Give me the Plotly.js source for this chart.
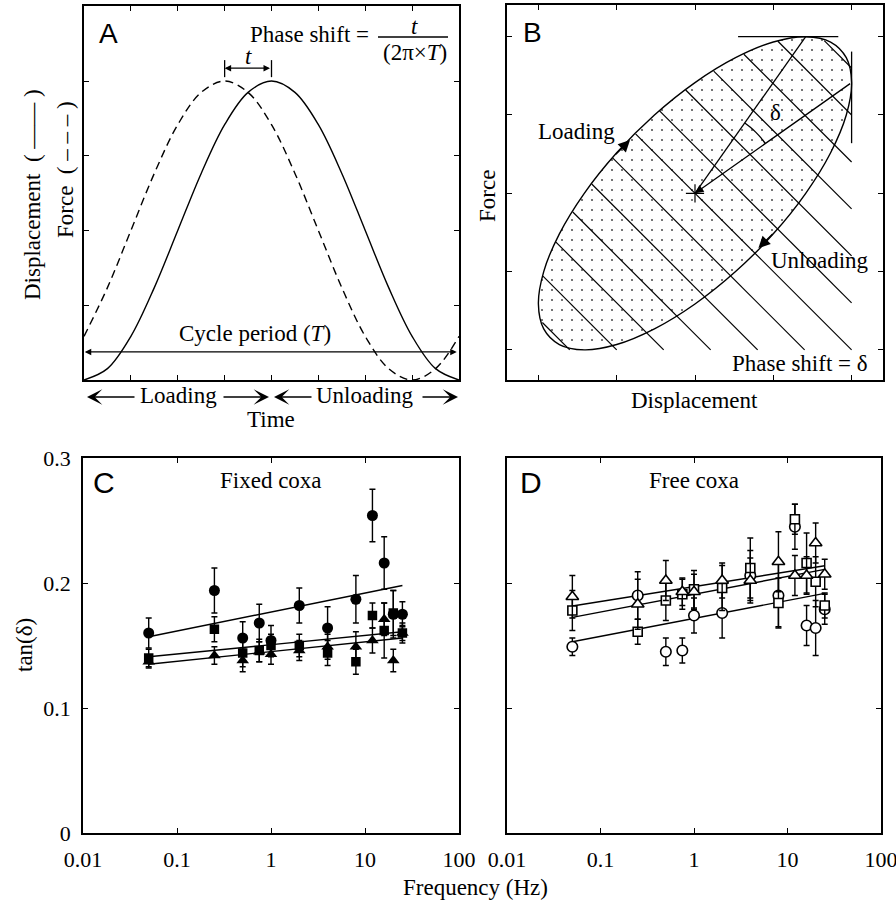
<!DOCTYPE html>
<html><head><meta charset="utf-8">
<script src="https://cdn.plot.ly/plotly-3.0.1.min.js"></script>
<style>html,body{margin:0;padding:0;background:#fff}#chart{width:896px;height:903px}</style>
</head><body><div id="chart"></div>
<script>
// ---------- Panel A (schematic) ----------
const phase = [0, 0.0625, 0.125, 0.1875, 0.25, 0.3125, 0.375, 0.4375, 0.5, 0.5625, 0.625, 0.6875, 0.75, 0.8125, 0.875, 0.9375, 1];
const displacement = [0, 0.038, 0.146, 0.309, 0.5, 0.691, 0.854, 0.962, 1, 0.962, 0.854, 0.691, 0.5, 0.309, 0.146, 0.038, 0];
const force = [0.146, 0.309, 0.5, 0.691, 0.854, 0.962, 1, 0.962, 0.854, 0.691, 0.5, 0.309, 0.146, 0.038, 0, 0.038, 0.146];
const aTicksX = [0.125, 0.25, 0.375, 0.5, 0.625, 0.75, 0.875];
const aTicksY = [0.25, 0.5, 0.75, 1];

// ---------- Panel B (schematic) ----------
const ellipseX = [2, 1.932, 1.732, 1.414, 1, 0.518, 0, -0.518, -1, -1.414, -1.732, -1.932, -2, -1.932, -1.732, -1.414, -1, -0.518, 0, 0.518, 1, 1.414, 1.732, 1.932, 2];
const ellipseY = [1.414, 1.732, 1.932, 2, 1.932, 1.732, 1.414, 1, 0.518, 0, -0.518, -1, -1.414, -1.732, -1.932, -2, -1.932, -1.732, -1.414, -1, -0.518, 0, 0.518, 1, 1.414];
const hatchOffsets = [3.6, 3.0, 2.4, 1.8, 1.2, 0.6, 0, -0.6, -1.2, -1.8, -2.4, -3.0, -3.6];
const hatchLimit = 2;
const guideTopX = [0.55, 1.83];
const guideRightY = [0.64, 1.81];
const arcX = [0.636, 0.707, 0.778, 0.843, 0.898];
const arcY = [0.898, 0.843, 0.778, 0.707, 0.636];
const bTicks = [-2, -1, 0, 1, 2];

// ---------- Panels C & D ----------
const freqHz = [0.05, 0.25, 0.5, 0.75, 1, 2, 4, 8, 12, 16, 20, 25];
const fixedCircle = [0.160, 0.194, 0.156, 0.168, 0.154, 0.182, 0.164, 0.187, 0.254, 0.216, 0.175, 0.175];
const fixedCircleErr = [0.012, 0.018, 0.013, 0.015, 0.012, 0.014, 0.017, 0.019, 0.021, 0.021, 0.019, 0.010];
const fixedSquare = [0.140, 0.163, 0.144, 0.146, 0.150, 0.150, 0.144, 0.137, 0.174, 0.162, 0.176, 0.160];
const fixedSquareErr = [0.007, 0.010, 0.011, 0.009, 0.009, 0.009, 0.010, 0.010, 0.010, 0.022, 0.018, 0.008];
const fixedTriangle = [0.137, 0.142, 0.138, 0.145, 0.143, 0.146, 0.149, 0.149, 0.154, 0.171, 0.138, 0.160];
const fixedTriangleErr = [0.005, 0.007, 0.009, 0.008, 0.008, 0.008, 0.010, 0.012, 0.010, 0.013, 0.009, 0.006];

const freeCircle = [0.149, 0.190, 0.145, 0.146, 0.174, 0.176, 0.206, 0.190, 0.245, 0.166, 0.164, 0.179];
const freeCircleErr = [0.007, 0.019, 0.011, 0.010, 0.014, 0.020, 0.020, 0.025, 0.018, 0.016, 0.022, 0.012];
const freeSquare = [0.178, 0.161, 0.186, 0.191, 0.195, 0.196, 0.212, 0.184, 0.251, 0.216, 0.201, 0.182];
const freeSquareErr = [0.016, 0.010, 0.016, 0.012, 0.015, 0.018, 0.024, 0.020, 0.012, 0.024, 0.020, 0.010];
const freeTriangle = [0.189, 0.183, 0.202, 0.193, 0.193, 0.202, 0.202, 0.217, 0.206, 0.206, 0.232, 0.207];
const freeTriangleErr = [0.017, 0.020, 0.016, 0.011, 0.014, 0.014, 0.018, 0.024, 0.016, 0.015, 0.016, 0.012];

const fitFreq = [0.05, 25];
const fixedFitCircle = [0.157, 0.198];
const fixedFitSquare = [0.141, 0.161];
const fixedFitTriangle = [0.135, 0.156];
const freeFitTop = [0.1816, 0.2138];
const freeFitMid = [0.1725, 0.2109];
const freeFitLow = [0.153, 0.1917];

const freqTicks = [0.01, 0.1, 1, 10, 100];
const freqTickText = ['0.01', '0.1', '1', '10', '100'];
const tanTicks = [0, 0.1, 0.2, 0.3];
const tanTickText = ['0', '0.1', '0.2', '0.3'];

// ---------- build ----------
const W = 896, H = 903;
const SERIF = 'Liberation Serif, Times New Roman, serif';
const SANS = 'Liberation Sans, Arial, sans-serif';
const FS = 23;
const fx = v => v / W, fy = v => 1 - v / H;
const traces = [];
const ln = (x, y, xa, ya, extra) => Object.assign({x, y, xaxis: xa, yaxis: ya, mode: 'lines', line: {color: 'black', width: 1.3}, hoverinfo: 'skip', showlegend: false}, extra || {});

// A
traces.push(ln(phase, displacement, 'x', 'y', {line: {color: 'black', width: 1.4, shape: 'spline'}}));
traces.push(ln(phase, force, 'x', 'y', {line: {color: 'black', width: 1.4, shape: 'spline', dash: '8px,5px'}}));
const tForce = phase[force.indexOf(Math.max(...force))];
const tDisp = phase[displacement.indexOf(Math.max(...displacement))];
traces.push(ln([tForce, tForce, null, tDisp, tDisp], [1.013, 1.07, null, 1.013, 1.07], 'x', 'y', {line: {color: 'black', width: 1.3}}));

// B
traces.push(ln(ellipseX, ellipseY, 'x2', 'y2', {fill: 'toself', fillcolor: 'white',
  fillpattern: {shape: '.', size: 10, solidity: 0.035, fgcolor: '#555', bgcolor: 'white'},
  line: {color: 'black', width: 1.4, shape: 'spline'}}));
function hatchStart(c) {
  let best = null;
  for (let i = 0; i < ellipseX.length - 1; i++) {
    const s1 = ellipseX[i] + ellipseY[i] - c, s2 = ellipseX[i + 1] + ellipseY[i + 1] - c;
    if (s1 === 0 || s1 * s2 < 0) {
      const f = s1 / (s1 - s2);
      const x = ellipseX[i] + f * (ellipseX[i + 1] - ellipseX[i]);
      const y = ellipseY[i] + f * (ellipseY[i + 1] - ellipseY[i]);
      if (!best || x < best[0]) best = [x, y];
    }
  }
  return best;
}
const hx = [], hy = [];
hatchOffsets.forEach(c => {
  const s = hatchStart(c); if (!s) return;
  const e = c >= 0 ? [hatchLimit, c - hatchLimit] : [c + hatchLimit, -hatchLimit];
  hx.push(s[0], e[0], null); hy.push(s[1], e[1], null);
});
traces.push(ln(hx, hy, 'x2', 'y2', {line: {color: 'black', width: 1.2}}));
const iTop = ellipseY.indexOf(Math.max(...ellipseY));
const iRight = ellipseX.indexOf(Math.max(...ellipseX));
const topPt = [ellipseX[iTop], ellipseY[iTop]], rightPt = [ellipseX[iRight], ellipseY[iRight]];
traces.push(ln([topPt[0], 0, null, guideTopX[0], guideTopX[1], null, rightPt[0], rightPt[0]],
               [topPt[1], 0, null, topPt[1], topPt[1], null, guideRightY[0], guideRightY[1]], 'x2', 'y2', {line: {color: 'black', width: 1.3}}));
traces.push(ln(arcX, arcY, 'x2', 'y2', {line: {color: 'black', width: 1.3, shape: 'spline'}}));
traces.push({x: [0], y: [0], xaxis: 'x2', yaxis: 'y2', mode: 'markers', marker: {symbol: 'cross-thin', size: 13, line: {color: 'black', width: 1.2}}, hoverinfo: 'skip', showlegend: false});

// C & D
function series(y, err, xa, ya, symbol, size, filled) {
  return {x: freqHz, y, xaxis: xa, yaxis: ya, mode: 'markers', showlegend: false, hoverinfo: 'skip', cliponaxis: false,
    error_y: {type: 'data', array: err, visible: true, color: 'black', thickness: 1.4, width: 3},
    marker: {symbol, size, color: filled ? 'black' : 'white', line: {color: 'black', width: filled ? 0 : 1.6}}};
}
traces.push(ln(fitFreq, fixedFitCircle, 'x3', 'y3', {line: {color: 'black', width: 1.4}}));
traces.push(ln(fitFreq, fixedFitSquare, 'x3', 'y3', {line: {color: 'black', width: 1.4}}));
traces.push(ln(fitFreq, fixedFitTriangle, 'x3', 'y3', {line: {color: 'black', width: 1.4}}));
traces.push(series(fixedTriangle, fixedTriangleErr, 'x3', 'y3', 'triangle-up', 11, true));
traces.push(series(fixedSquare, fixedSquareErr, 'x3', 'y3', 'square', 9.5, true));
traces.push(series(fixedCircle, fixedCircleErr, 'x3', 'y3', 'circle', 11, true));

traces.push(ln(fitFreq, freeFitTop, 'x4', 'y4', {line: {color: 'black', width: 1.4}}));
traces.push(ln(fitFreq, freeFitMid, 'x4', 'y4', {line: {color: 'black', width: 1.4}}));
traces.push(ln(fitFreq, freeFitLow, 'x4', 'y4', {line: {color: 'black', width: 1.4}}));
traces.push(series(freeCircle, freeCircleErr, 'x4', 'y4', 'circle', 10.5, false));
traces.push(series(freeSquare, freeSquareErr, 'x4', 'y4', 'square', 9, false));
traces.push(series(freeTriangle, freeTriangleErr, 'x4', 'y4', 'triangle-up', 11, false));

// axes
const frame = {showline: true, linecolor: 'black', linewidth: 1.8, mirror: 'ticks', ticks: 'inside', ticklen: 5, tickwidth: 1, tickcolor: 'black', showgrid: false, zeroline: false, fixedrange: true};
const tickFont = {family: SERIF, size: 22, color: 'black'};
const layout = {
  width: W, height: H, margin: {l: 0, r: 0, t: 0, b: 0}, paper_bgcolor: 'white', plot_bgcolor: 'white', showlegend: false,
  xaxis: Object.assign({}, frame, {domain: [fx(84), fx(459)], range: [0, 1], tickvals: aTicksX, showticklabels: false, anchor: 'y'}),
  yaxis: Object.assign({}, frame, {domain: [fy(380), fy(6)], range: [0, 1.251], tickvals: aTicksY, showticklabels: false, anchor: 'x'}),
  xaxis2: Object.assign({}, frame, {domain: [fx(507), fx(883)], range: [-2.401, 2.401], tickvals: bTicks, showticklabels: false, anchor: 'y2'}),
  yaxis2: Object.assign({}, frame, {domain: [fy(380), fy(5)], range: [-2.385, 2.405], tickvals: bTicks, showticklabels: false, anchor: 'x2'}),
  xaxis3: Object.assign({}, frame, {type: 'log', domain: [fx(83), fx(459)], range: [-2, 2], tickvals: freqTicks, ticktext: freqTickText, tickfont: tickFont, ticklabelstandoff: 6, ticklabeloverflow: 'allow', anchor: 'y3'}),
  yaxis3: Object.assign({}, frame, {domain: [fy(833), fy(458)], range: [0, 0.3], tickvals: tanTicks, ticktext: tanTickText, tickfont: tickFont, ticklabelstandoff: 6, ticklabeloverflow: 'allow', anchor: 'x3'}),
  xaxis4: Object.assign({}, frame, {type: 'log', domain: [fx(507), fx(881)], range: [-2, 2], tickvals: freqTicks, ticktext: freqTickText, tickfont: tickFont, ticklabelstandoff: 6, ticklabeloverflow: 'allow', anchor: 'y4'}),
  yaxis4: Object.assign({}, frame, {domain: [fy(833), fy(458)], range: [0, 0.3], tickvals: tanTicks, showticklabels: false, anchor: 'x4'}),
  shapes: [
    {type: 'line', xref: 'paper', yref: 'paper', x0: fx(378), x1: fx(448), y0: fy(37), y1: fy(37), line: {color: 'black', width: 1.3}}
  ],
  annotations: []
};

const A = layout.annotations;
function txt(text, x, y, o) {
  return Object.assign({xref: 'paper', yref: 'paper', x: fx(x), y: fy(y), text, showarrow: false, xanchor: 'center', yanchor: 'middle',
    font: {family: SERIF, size: FS, color: 'black'}}, o || {});
}
function arrowPx(tipX, tipY, tailX, tailY, o) {
  return Object.assign({xref: 'paper', yref: 'paper', x: fx(tipX), y: fy(tipY), ax: tailX - tipX, ay: tailY - tipY,
    text: '', showarrow: true, arrowhead: 3, arrowsize: 1.7, arrowwidth: 1.5, arrowcolor: 'black', standoff: 0, startstandoff: 0}, o || {});
}
function arrowData(xr, yr, tip, tail, o) {
  return Object.assign({xref: xr, yref: yr, axref: xr, ayref: yr, x: tip[0], y: tip[1], ax: tail[0], ay: tail[1],
    text: '', showarrow: true, arrowhead: 2, arrowsize: 1, arrowwidth: 1.3, arrowcolor: 'black', standoff: 0, startstandoff: 0}, o || {});
}

// Panel A texts & arrows
A.push(txt('A', 108, 34, {font: {family: SANS, size: 28, color: 'black'}}));
A.push(txt('Phase shift =', 309, 35));
A.push(txt('<i>t</i>', 414, 26));
A.push(txt('(2π×<i>T</i>)', 415, 53));
A.push(txt('<i>t</i>', 248, 57));
A.push(arrowData('x', 'y', [tForce, 1.043], [tDisp, 1.043], {arrowside: 'end+start', arrowsize: 1}));
A.push(txt('Cycle period (<i>T</i>)', 255, 333));
A.push(arrowData('x', 'y', [0.002, 0.094], [0.998, 0.094], {arrowside: 'end+start', arrowsize: 1}));
A.push(txt('Displacement  ( —— )', 33, 195, {textangle: -90}));
A.push(txt('Force  ( – – – )', 65, 170, {textangle: -90}));
A.push(txt('Loading', 178, 395));
A.push(txt('Unloading', 365, 395));
A.push(arrowPx(87, 397, 136, 397));
A.push(arrowPx(269, 397, 222, 397));
A.push(arrowPx(274, 397, 313, 397));
A.push(arrowPx(458, 397, 421, 397));
A.push(txt('Time', 271, 420));

// Panel B texts & arrows
A.push(txt('B', 532, 32, {font: {family: SANS, size: 28, color: 'black'}}));
A.push(txt('Loading', 576, 131));
A.push(txt('Unloading', 820, 260));
A.push(txt('Phase shift = δ', 800, 363));
A.push(txt('δ', 775, 112));
A.push(txt('Force', 488, 196, {textangle: -90}));
A.push(txt('Displacement', 694, 400));
A.push(arrowData('x2', 'y2', [-0.83, 0.68], [-1.03, 0.48], {arrowsize: 1.8}));
A.push(arrowData('x2', 'y2', [0.81, -0.70], [1.01, -0.50], {arrowsize: 1.8}));
A.push(arrowData('x2', 'y2', [0, 0], rightPt, {arrowsize: 1.3}));

// Panels C & D texts
A.push(txt('C', 104, 482, {font: {family: SANS, size: 30, color: 'black'}}));
A.push(txt('D', 531, 482, {font: {family: SANS, size: 30, color: 'black'}}));
A.push(txt('Fixed coxa', 271, 480));
A.push(txt('Free coxa', 694, 480));
A.push(txt('tan(δ)', 24, 645, {textangle: -90}));
A.push(txt('Frequency (Hz)', 475, 887));

Plotly.newPlot('chart', traces, layout, {staticPlot: true, displayModeBar: false});
</script>
</body></html>
